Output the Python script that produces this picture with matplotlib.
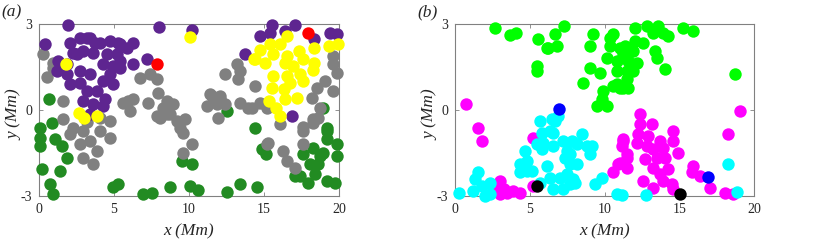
import numpy as np
import matplotlib
matplotlib.use("Agg")
import matplotlib.pyplot as plt

plt.rcParams['font.family'] = ['Liberation Serif', 'DejaVu Serif']

# ---------------- panel (a) ----------------
a_purple_x = [1.95, 0.4, 8.0, 10.2, 2.07, 2.73, 3.4, 4.07, 4.73, 5.4, 5.84, 2.29, 2.96, 3.62, 4.51, 5.18,
              1.18, 1.84, 2.73, 3.4, 2.07, 2.73, 4.29, 4.73, 4.96, 5.4, 4.29, 3.84, 3.18, 2.96, 3.62, 4.4,
              4.29, 3.4, 1.84, 6.29, 6.29, 7.18, 5.4, 5.29, 4.96, 1.29, 2.51, 3.18, 3.73,
              15.5, 17.07, 14.73, 15.4, 16.4, 19.4, 19.84, 18.3, 13.73, 16.84]
a_purple_y = [2.95, 2.29, 2.9, 2.78, 2.35, 2.52, 2.52, 2.35, 2.4, 2.29, 2.17, 2.0, 2.06, 2.0, 1.94, 1.94,
              1.36, 1.24, 1.36, 1.24, 0.89, 0.95, 1.59, 1.24, 0.89, 1.47, 1.01, 0.66, 0.66, 0.31, 0.2, 0.37,
              0.14, -0.15, 1.59, 2.35, 1.59, 1.77, 1.71, 2.35, 1.53, 1.71, 1.94, 2.52, 2.35,
              2.96, 2.98, 2.58, 2.7, 2.75, 2.7, 2.66, 2.46, 1.94, -0.21]

a_gray_x = [0.25, 0.95, 0.51, 0.95, 1.62, 1.62, 2.29, 2.07, 2.96, 2.73, 3.4, 4.07, 4.73, 3.84, 2.96, 3.62,
            4.07, 4.73, 3.18,
            6.73, 7.4, 7.84, 7.96, 7.29, 6.29, 5.62, 6.07, 5.96, 8.29, 8.96, 8.73, 8.07, 9.73, 9.4, 9.62,
            10.18, 9.62, 7.84, 8.5, 9.18, 8.5,
            11.18, 11.51, 12.07, 11.96, 12.4, 12.4, 13.18, 13.4, 13.29, 14.4, 13.4, 14.18, 14.73, 15.18,
            13.96, 11.4, 12.07, 11.84, 15.29, 16.29, 16.51, 17.07, 17.62, 17.62, 18.29, 18.62, 15.18, 16.07,
            19.62, 19.62, 19.84, 19.07, 18.5, 19.62, 18.18, 18.73, 18.29, 17.6]
a_gray_y = [1.97, 1.47, 1.15, 1.65, 0.31, -0.32, -0.62, -0.85, -0.73, -1.2, -1.08, -0.73, -0.96, -1.43, -1.66, -1.89,
            -0.27, -0.38, -0.43,
            1.13, 1.24, 1.07, 0.6, 0.25, 0.37, 0.25, -0.03, 0.31, 0.08, 0.2, -0.15, -0.27, -0.32, -0.62, -0.79,
            -1.2, -1.49, -0.21, -0.15, -0.38, 0.31,
            0.14, 0.49, 0.37, -0.27, 0.2, 1.24, 1.59, 1.36, 1.07, 0.84, 0.25, 0.08, 0.25, 0.08,
            0.08, 0.55, 0.49, 0.2, -1.14, -1.43, -1.78, -2.01, -0.73, -1.2, -0.44, -0.27, -1.2, -0.5,
            1.88, 1.59, 1.3, 1.01, 0.78, 0.66, 0.43, 0.08, -0.32, -0.6]

a_green_x = [0.69, 0.07, 0.84, 0.07, 0.07, 1.07, 1.51, 1.84, 0.18, 1.4, 0.73, 0.95, 4.96, 5.29, 6.96, 7.51,
             8.73, 9.51, 10.18, 10.07, 10.62, 12.5, 14.4, 12.5, 13.4, 14.51, 14.84, 15.1, 17.07, 17.96,
             17.62, 18.29, 19.18, 19.18, 19.84, 19.84, 18.96, 18.07, 18.62, 18.4, 19.18, 19.73, 17.4,
             18.73, 18.96, 19.2]
a_green_y = [0.37, -0.62, -0.44, -0.96, -1.25, -1.02, -1.25, -1.66, -2.07, -2.13, -2.59, -2.94, -2.7, -2.57, -2.94, -2.88,
             -2.7, -1.78, -1.9, -2.65, -2.8, -0.03, -0.62, -2.85, -2.57, -2.67, -1.37, -1.55, -2.3, -2.53,
             -1.55, -1.31, -0.73, -1.02, -1.2, -1.6, -1.49, -1.9, -1.9, -2.24, -2.47, -2.53, -2.3,
             -1.6, 0.08, -0.62]

a_yellow_x = [1.8, 10.07, 2.67, 3.0, 3.89,
              16.5, 15.4, 16.07, 14.73, 15.6, 14.3, 15.07, 16.4, 16.5, 17.3, 18.3, 19.3, 19.96, 17.6, 18.3,
              16.96, 18.24, 15.6, 16.5, 17.4, 16.7, 17.6, 15.5, 16.3, 17.2, 15.3, 16.4, 16.07, 15.8, 14.4]
a_yellow_y = [1.61, 2.55, -0.09, -0.27, -0.21,
              2.58, 2.29, 2.29, 2.11, 1.94, 1.77, 1.65, 1.65, 1.88, 2.06, 2.17, 2.23, 2.31, 1.77, 1.65,
              1.53, 1.41, 1.18, 1.18, 1.24, 0.95, 1.01, 0.78, 0.72, 0.43, 0.31, 0.37, -0.21, 0.08, 1.77]

a_red_x = [7.84, 17.96]
a_red_y = [1.59, 2.67]

# ---------------- panel (b) ----------------
b_green_x = [2.68, 3.68, 4.08, 5.57, 6.13, 6.8, 6.69, 7.27, 5.46, 5.46, 8.58, 9.25, 9.03, 9.03, 9.7, 10.37,
             10.59, 10.37, 11.04, 10.15, 10.82, 10.82, 9.93, 10.82, 11.26, 9.48, 10.15, 9.81, 11.48, 11.48,
             10.59, 12.04, 12.82, 13.6, 13.26, 14.27, 13.9, 15.27, 15.9, 12.04, 12.6, 11.37, 11.26, 11.93,
             11.6, 12.15, 13.38, 13.49, 14.05, 11.93, 11.48, 11.6, 11.04, 18.73, 6.24]
b_green_y = [2.85, 2.61, 2.7, 2.46, 2.17, 2.23, 2.64, 2.93, 1.53, 1.36, 0.95, 2.66, 2.23, 1.47, 1.3, 2.52,
             2.64, 2.23, 2.17, 1.82, 1.71, 1.36, 0.66, 0.89, 0.78, 0.14, 0.14, 0.37, 1.36, 1.82,
             0.84, 2.87, 2.93, 2.93, 2.7, 2.58, 2.7, 2.87, 2.75, 2.4, 2.35, 2.23, 1.94, 2.06,
             1.71, 1.65, 2.06, 1.82, 1.42, 1.36, 1.07, 0.78, 0.78, 1.27, 2.17]

b_magenta_x = [0.74, 1.56, 1.78, 3.01, 2.79, 3.46, 3.9, 4.35, 5.24, 5.24, 2.9, 3.3, 3.0,
               10.59, 10.9, 11.26, 11.15, 11.48, 11.04, 19.06, 12.37, 12.37, 13.16, 14.6, 12.26, 12.93,
               11.26, 12.15, 13.71, 14.6, 12.82, 13.26, 13.93, 14.94, 11.48, 12.71, 13.49, 14.05, 11.48,
               13.26, 14.27, 13.71, 12.6, 13.26, 13.93, 14.49, 14.6, 15.94, 15.83, 16.39, 17.06, 18.28,
               18.06, 18.62]
b_magenta_y = [0.2, -0.62, -1.08, -2.47, -2.76, -2.88, -2.82, -2.88, -2.65, -0.96, -2.6, -2.75, -2.94,
               -2.18, -1.9, -1.08, -1.25, -1.66, -1.84, -0.03, -0.15, -0.5, -0.5, -0.73, -0.85, -0.91,
               -1.02, -1.14, -1.08, -1.08, -1.25, -1.37, -1.31, -1.49, -1.55, -1.72, -1.66, -1.66, -2.01,
               -2.01, -2.07, -2.24, -2.47, -2.71, -2.47, -2.59, -2.76, -1.95, -2.18, -2.3, -2.71, -0.82,
               -2.88, -2.94]

b_cyan_x = [0.29, 1.56, 1.34, 1.23, 1.78, 2.34, 2.34, 2.01, 4.68, 4.35, 4.35, 4.79, 6.13, 5.46, 5.69, 6.35,
            6.69, 6.91, 5.8, 5.69, 6.58, 6.35, 7.24, 7.47, 7.91, 8.14, 7.69, 8.14, 8.47, 9.03, 9.14, 7.24,
            7.47, 9.37, 9.81, 10.82, 6.47, 5.8, 6.58, 5.91, 6.58, 7.8, 8.81, 7.36, 7.69, 7.02, 7.69, 8.03,
            4.79, 5.13, 11.15, 12.78, 18.28, 18.84]
b_cyan_y = [-2.88, -2.18, -2.42, -2.82, -2.65, -2.53, -2.94, -3.0, -1.43, -1.89, -2.18, -1.78, -1.95, -1.2, -0.38, -0.73,
            -0.38, -0.21, -1.37, -2.53, -2.76, -2.36, -2.76, -2.24, -2.42, -1.89, -1.55, -1.2, -0.85, -1.55, -1.25, -1.08,
            -1.43, -2.59, -2.36, -2.94, -0.32, -0.79, -0.79, -1.14, -1.25, -1.08, -1.25, -1.66, -1.89, -2.36, -2.59, -2.53,
            -2.13, -2.13, -2.96, -2.96, -1.87, -2.86]

b_blue_x = [6.96, 16.95]
b_blue_y = [0.05, -2.33]
b_black_x = [5.46, 15.05]
b_black_y = [-2.65, -2.94]

xticks = [0, 5, 10, 15, 20]
yticks = [-3, 0, 3]

fig = plt.figure(figsize=(8.3, 2.42), dpi=100)
ax_a = fig.add_axes([39/830, 46/242, 300/830, 172/242])
ax_b = fig.add_axes([455/830, 46/242, 299/830, 172/242])

S = 80

def style(ax, letter):
    ax.set_xlim(0, 20)
    ax.set_ylim(-3, 3)
    ax.set_xticks(xticks)
    ax.set_yticks(yticks)
    ax.set_xticklabels([str(t) for t in xticks])
    ax.set_yticklabels([str(t) for t in yticks])
    ax.tick_params(direction='in', length=3, width=0.6, color='#808080', labelsize=10,
                   labelcolor='#262626', top=True, right=True, pad=5)
    for sp in ax.spines.values():
        sp.set_color('#808080')
        sp.set_linewidth(0.8)
    ax.text(0.5, -0.205, 'x (Mm)', transform=ax.transAxes, ha='center', va='center',
            fontsize=12.5, style='italic', color='#262626')
    ax.text(-0.082, 0.47, 'y (Mm)', transform=ax.transAxes, ha='center', va='center',
            fontsize=12.5, style='italic', color='#262626', rotation=90)
    ax.text(-0.125, 1.07, letter, transform=ax.transAxes, ha='left', va='center',
            fontsize=12.5, style='italic', color='#262626')

def dots(ax, x, y, c):
    ax.scatter(x, y, s=S, c=c, linewidths=0, clip_on=False, zorder=3)

dots(ax_a, a_green_x, a_green_y, '#228b22')
dots(ax_a, a_gray_x, a_gray_y, '#808080')
dots(ax_a, a_purple_x, a_purple_y, '#5e2590')
dots(ax_a, a_yellow_x, a_yellow_y, '#ffff00')
dots(ax_a, a_red_x, a_red_y, '#ff0000')
style(ax_a, '(a)')

dots(ax_b, b_green_x, b_green_y, '#00ff00')
dots(ax_b, b_magenta_x, b_magenta_y, '#ff00ff')
dots(ax_b, b_cyan_x, b_cyan_y, '#00ffff')
dots(ax_b, b_blue_x, b_blue_y, '#0000ff')
dots(ax_b, b_black_x, b_black_y, '#000000')
style(ax_b, '(b)')

fig.savefig('out.png', dpi=100)
